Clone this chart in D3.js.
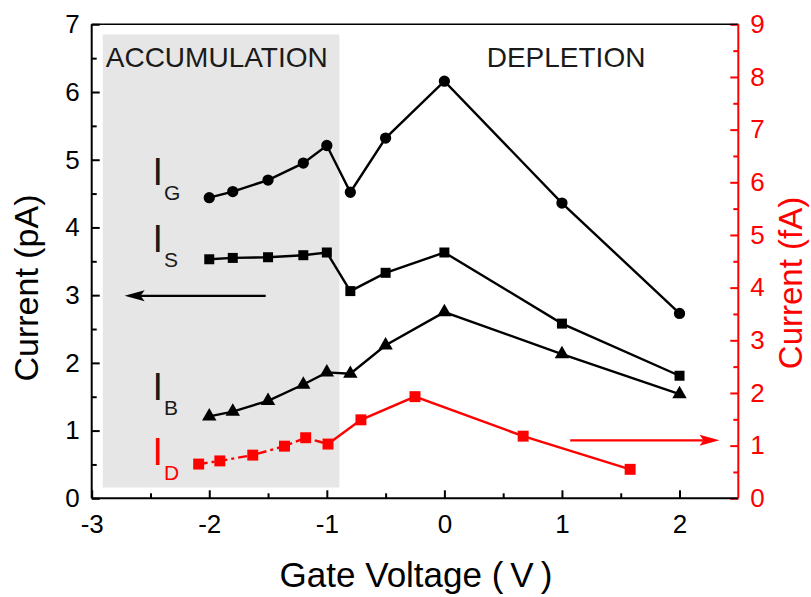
<!DOCTYPE html>
<html>
<head>
<meta charset="utf-8">
<script src="https://cdn.jsdelivr.net/npm/d3@7"></script>
<style>
  body { margin: 0; background: #fff; }
  svg { font-family: Arial, "Liberation Sans", sans-serif; }
</style>
</head>
<body>
<div id="chart"></div>
<script>
// gate voltages and currents (pA) for the three black series
const gateV = [-2, -1.8, -1.5, -1.2, -1, -0.8, -0.5, 0, 1, 2];
const currentG = [4.44, 4.53, 4.70, 4.95, 5.21, 4.52, 5.32, 6.16, 4.36, 2.73];
const currentS = [3.53, 3.55, 3.56, 3.59, 3.63, 3.06, 3.33, 3.63, 2.58, 1.81];
const currentB = [1.21, 1.28, 1.44, 1.68, 1.86, 1.84, 2.26, 2.75, 2.13, 1.54];

// drain current (fA), right axis
const gateVD = [-2.09, -1.91, -1.63, -1.36, -1.18, -0.99, -0.71, -0.25, 0.67, 1.58];
const currentD = [0.65, 0.71, 0.82, 0.99, 1.15, 1.03, 1.49, 1.93, 1.18, 0.55];

const xTicks = [-3, -2, -1, 0, 1, 2];
const yLeftTicks = [0, 1, 2, 3, 4, 5, 6, 7];
const yRightTicks = [0, 1, 2, 3, 4, 5, 6, 7, 8, 9];

const width = 811, height = 597;
const margin = {top: 24.3, right: 72.7, bottom: 98.7, left: 91.7};
const plotW = width - margin.left - margin.right,
  plotH = height - margin.top - margin.bottom;

const x = d3.scaleLinear().domain([-3, 2.5]).range([0, plotW]);
const yL = d3.scaleLinear().domain([0, 7]).range([plotH, 0]);
const yR = d3.scaleLinear().domain([0, 9]).range([plotH, 0]);

const RED = "#ff0000";

const svg = d3.select("#chart").append("svg")
  .attr("width", width)
  .attr("height", height);

const g = svg.append("g")
  .attr("transform", "translate(" + margin.left + "," + margin.top + ")");

// accumulation shading
g.append("rect")
  .attr("x", x(-2.906))
  .attr("y", yL(6.85))
  .attr("width", x(-0.893) - x(-2.906))
  .attr("height", yL(0.16) - yL(6.85))
  .attr("fill", "#e6e6e6");

// region labels
g.append("text")
  .attr("x", x(-2.906) + 3).attr("y", 42.4)
  .attr("font-size", 28).attr("fill", "#1a1a1a")
  .text("ACCUMULATION");
g.append("text")
  .attr("x", x(0.36)).attr("y", 42.4)
  .attr("font-size", 28).attr("fill", "#1a1a1a")
  .text("DEPLETION");

// axes
function styleAxis(sel, color, size) {
  sel.select(".domain").remove();
  sel.selectAll("line").attr("stroke", color).attr("stroke-width", 2);
  sel.selectAll("text").attr("fill", color).attr("font-size", size);
  sel.attr("font-family", null);
}

const halves = d3.range(0.5, 7, 1);
const halvesR = d3.range(0.5, 9, 1);
const halvesX = d3.range(-2.5, 2.5, 1);

g.append("g")
  .call(d3.axisLeft(yL).tickValues(yLeftTicks).tickSize(-8).tickPadding(12).tickFormat(d => String(d)))
  .call(s => styleAxis(s, "#000", 26));
g.append("g")
  .call(d3.axisLeft(yL).tickValues(halves).tickSize(-5).tickFormat(""))
  .call(s => styleAxis(s, "#000", 26));

g.append("g")
  .attr("transform", "translate(" + plotW + ",0)")
  .call(d3.axisRight(yR).tickValues(yRightTicks).tickSize(-8).tickPadding(12).tickFormat(d => String(d)))
  .call(s => styleAxis(s, RED, 26));
g.append("g")
  .attr("transform", "translate(" + plotW + ",0)")
  .call(d3.axisRight(yR).tickValues(halvesR).tickSize(-5).tickFormat(""))
  .call(s => styleAxis(s, RED, 26));

g.append("g")
  .attr("transform", "translate(0," + plotH + ")")
  .call(d3.axisBottom(x).tickValues(xTicks).tickSize(-8).tickPadding(16).tickFormat(d => String(d)))
  .call(s => styleAxis(s, "#000", 26));
g.append("g")
  .attr("transform", "translate(0," + plotH + ")")
  .call(d3.axisBottom(x).tickValues(halvesX).tickSize(-5).tickFormat(""))
  .call(s => styleAxis(s, "#000", 26));

// frame lines
g.append("line").attr("x1", 0).attr("x2", plotW).attr("y1", 0).attr("y2", 0)
  .attr("stroke", "#000").attr("stroke-width", 1.6);
g.append("line").attr("x1", 0).attr("x2", plotW).attr("y1", plotH).attr("y2", plotH)
  .attr("stroke", "#000").attr("stroke-width", 2);
g.append("line").attr("x1", 0).attr("x2", 0).attr("y1", 0).attr("y2", plotH)
  .attr("stroke", "#000").attr("stroke-width", 2);
g.append("line").attr("x1", plotW).attr("x2", plotW).attr("y1", 0).attr("y2", plotH)
  .attr("stroke", RED).attr("stroke-width", 2);

// series lines
function drawSeries(xs, ys, yScale, color, shape, size) {
  const pts = xs.map((v, i) => [v, ys[i]]);
  const line = d3.line().x(d => x(d[0])).y(d => yScale(d[1]));
  g.append("path")
    .datum(pts)
    .attr("fill", "none")
    .attr("stroke", color)
    .attr("stroke-width", 2.4)
    .attr("d", line);
  g.selectAll(null)
    .data(pts)
    .enter().append("path")
    .attr("transform", d => "translate(" + x(d[0]) + "," + yScale(d[1]) + ")")
    .attr("d", d3.symbol().type(shape).size(size))
    .attr("fill", color);
}

drawSeries(gateV, currentG, yL, "#000", d3.symbolCircle, 100);
drawSeries(gateV, currentS, yL, "#000", d3.symbolSquare, 100);
drawSeries(gateV, currentB, yL, "#000", d3.symbolTriangle, 90);

// drain: dash-dot in accumulation, solid after
const ptsD = gateVD.map((v, i) => [v, currentD[i]]);
const lineD = d3.line().x(d => x(d[0])).y(d => yR(d[1]));
g.append("path")
  .datum(ptsD.slice(0, 6))
  .attr("fill", "none").attr("stroke", RED).attr("stroke-width", 2.4)
  .attr("stroke-dasharray", "9,4,3,4")
  .attr("d", lineD);
g.append("path")
  .datum(ptsD.slice(5))
  .attr("fill", "none").attr("stroke", RED).attr("stroke-width", 2.4)
  .attr("d", lineD);
g.selectAll(null)
  .data(ptsD)
  .enter().append("path")
  .attr("transform", d => "translate(" + x(d[0]) + "," + yR(d[1]) + ")")
  .attr("d", d3.symbol().type(d3.symbolSquare).size(120))
  .attr("fill", RED);

// arrows
function arrow(x1, x2, yPix, color) {
  const dir = Math.sign(x2 - x1);
  const headLen = 20, headW = 5.5;
  g.append("line")
    .attr("x1", x1).attr("x2", x2 - dir * headLen * 0.8)
    .attr("y1", yPix).attr("y2", yPix)
    .attr("stroke", color).attr("stroke-width", 2.4);
  g.append("path")
    .attr("d", "M" + x2 + "," + yPix +
      "L" + (x2 - dir * headLen) + "," + (yPix - headW) +
      "L" + (x2 - dir * headLen * 0.8) + "," + yPix +
      "L" + (x2 - dir * headLen) + "," + (yPix + headW) + "Z")
    .attr("fill", color);
}
arrow(x(-1.52), x(-2.72), yL(2.99), "#000");
arrow(x(1.07), x(2.34), yR(1.1), RED);

// series labels
function seriesLabel(xPix, yPix, sub, color) {
  const t = g.append("text")
    .attr("x", xPix).attr("y", yPix)
    .attr("fill", color)
    .attr("font-size", 38)
    .text("I");
  t.append("tspan")
    .attr("font-size", 21)
    .attr("dx", 1)
    .attr("dy", 15)
    .text(sub);
}
seriesLabel(152.5 - margin.left, 185 - margin.top, "G", "#1a1a1a");
seriesLabel(152.5 - margin.left, 251.7 - margin.top, "S", "#1a1a1a");
seriesLabel(152.5 - margin.left, 400 - margin.top, "B", "#1a1a1a");
seriesLabel(152.5 - margin.left, 465 - margin.top, "D", RED);

// axis titles
svg.append("text")
  .attr("transform", "translate(38,288) rotate(-90)")
  .attr("text-anchor", "middle")
  .attr("font-size", 34)
  .attr("fill", "#000")
  .text("Current (pA)");

svg.append("text")
  .attr("transform", "translate(802,283) rotate(-90)")
  .attr("text-anchor", "middle")
  .attr("font-size", 33)
  .attr("fill", RED)
  .text("Current (fA)");

svg.append("text")
  .attr("x", 416).attr("y", 587)
  .attr("text-anchor", "middle")
  .attr("font-size", 35)
  .attr("fill", "#000")
  .text("Gate Voltage (\u2009V\u2009)");
</script>
</body>
</html>
